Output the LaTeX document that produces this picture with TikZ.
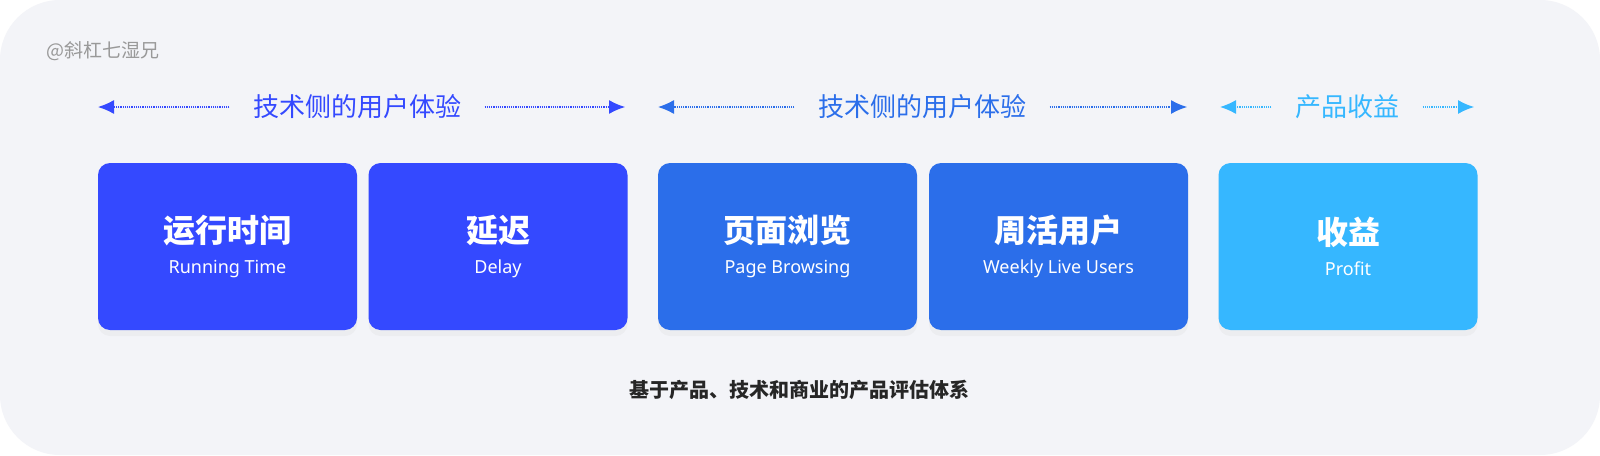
\documentclass[tikz,border=0pt]{standalone}
\usepackage{fontspec}
\setmainfont{Noto Sans}
\newfontfamily\cjk{Noto Sans CJK SC}
\usepackage{tikz}
\usetikzlibrary{positioning,shapes,shadows,arrows,arrows.meta}
\definecolor{bgcol}{HTML}{F3F4F8}
\definecolor{deepblue}{HTML}{3449FF}
\definecolor{midblue}{HTML}{2B6EEA}
\definecolor{skyblue}{HTML}{36B7FF}
\tikzstyle{metric}=[rectangle, rounded corners=12pt, minimum width=259pt, minimum height=167pt,
text=white, align=center, drop shadow={shadow xshift=0pt, shadow yshift=-6pt, opacity=0.06}]
\tikzstyle{group}=[font=\cjk\fontsize{26}{30}\selectfont]
\tikzstyle{span}=[densely dotted, line width=1.2pt, -{Latex[length=16pt,width=14pt]}]
\newcommand{\boxtext}[2]{{\cjk\bfseries\fontsize{32}{36}\selectfont #1}\\[13pt]{\fontsize{18}{22}\selectfont #2}}
\begin{document}
\begin{tikzpicture}[x=1pt,y=-1pt]
            \useasboundingbox (0,0) rectangle (1600,455);
            \fill[white] (0,0) rectangle (1600,455);
            \fill[bgcol, rounded corners=60pt] (0,0) rectangle (1600,455);
            \node (mark)[anchor=west, inner sep=0pt, text=gray!80, font=\cjk\fontsize{19}{22}\selectfont] at (46,51) {@斜杠七湿兄};
            % boxes
            \node (1)[metric, fill=deepblue] at (227.5,246.5) {\boxtext{运行时间}{Running Time}};
            \node (2)[metric, fill=deepblue] at (498,246.5) {\boxtext{延迟}{Delay}};
            \node (3)[metric, fill=midblue] at (787.5,246.5) {\boxtext{页面浏览}{Page Browsing}};
            \node (4)[metric, fill=midblue] at (1058.5,246.5) {\boxtext{周活用户}{Weekly Live Users}};
            \node (5)[metric, fill=skyblue] at (1348,246.5) {\boxtext{收益}{Profit}};
            % group labels
            \node (g1)[group, text=deepblue] at (357,107) {技术侧的用户体验};
            \node (g2)[group, text=midblue] at (922,107) {技术侧的用户体验};
            \node (g3)[group, text=skyblue] at (1347,107) {产品收益};
            \coordinate (g1l) at (98,107);  \coordinate (g1r) at (625,107);
            \coordinate (g2l) at (658,107); \coordinate (g2r) at (1187,107);
            \coordinate (g3l) at (1220,107); \coordinate (g3r) at (1474,107);
            \draw[span, deepblue] ([xshift=-20pt]g1.west) -- (g1l);
            \draw[span, deepblue] ([xshift=20pt]g1.east) -- (g1r);
            \draw[span, midblue] ([xshift=-20pt]g2.west) -- (g2l);
            \draw[span, midblue] ([xshift=20pt]g2.east) -- (g2r);
            \draw[span, skyblue] ([xshift=-20pt]g3.west) -- (g3l);
            \draw[span, skyblue] ([xshift=20pt]g3.east) -- (g3r);
            \node (caption)[text=black!85, font=\cjk\bfseries\fontsize{20}{24}\selectfont] at (799,390) {基于产品、技术和商业的产品评估体系};
        \end{tikzpicture}
\end{document}
